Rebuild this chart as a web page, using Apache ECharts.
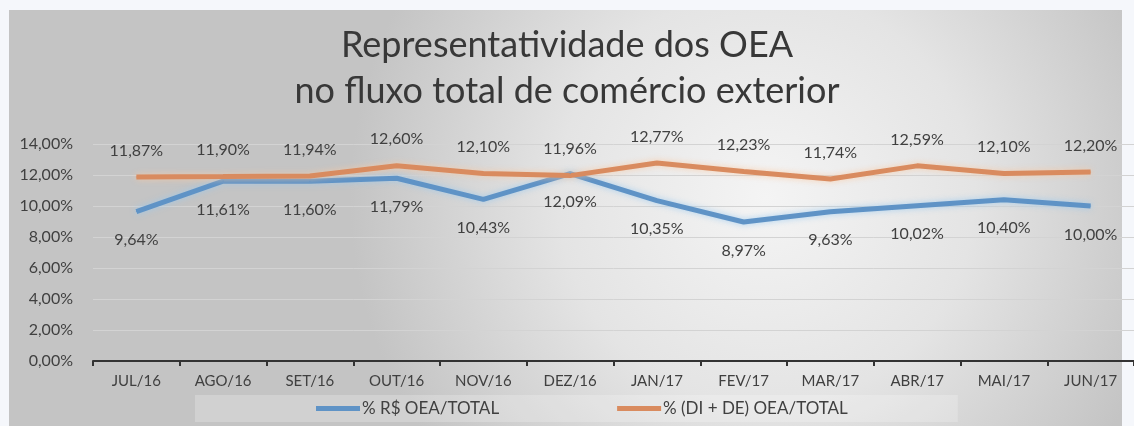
<!DOCTYPE html>
<html>
<head>
<meta charset="utf-8">
<script src="https://cdn.jsdelivr.net/npm/echarts@6/dist/echarts.min.js"></script>
<style>
  html, body { margin: 0; padding: 0; background: #f5f7fb; }
  #main { width: 1134px; height: 426px; }
</style>
</head>
<body>
<div id="main"></div>
<script>
var meses = ['JUL/16', 'AGO/16', 'SET/16', 'OUT/16', 'NOV/16', 'DEZ/16', 'JAN/17', 'FEV/17', 'MAR/17', 'ABR/17', 'MAI/17', 'JUN/17'];
// % R$ OEA/TOTAL
var valorOEA = [9.64, 11.61, 11.60, 11.79, 10.43, 12.09, 10.35, 8.97, 9.63, 10.02, 10.40, 10.00];
// % (DI + DE) OEA/TOTAL
var declOEA = [11.87, 11.90, 11.94, 12.60, 12.10, 11.96, 12.77, 12.23, 11.74, 12.59, 12.10, 12.20];

var fonte = 'Lato, "Open Sans", sans-serif';

function pct(v) {
    return v.toFixed(2).replace('.', ',') + '%';
}

var myChart = echarts.init(document.getElementById('main'));

var option = {
    textStyle: { fontFamily: fonte },
    graphic: [
        {
            type: 'rect',
            z: -10,
            silent: true,
            shape: { x: 9, y: 10, width: 1113, height: 416 },
            style: {
                fill: {
                    type: 'radial', x: 0.68, y: 0.45, r: 1.0,
                    colorStops: [
                        { offset: 0, color: '#f4f4f4' },
                        { offset: 0.5, color: '#e4e4e4' },
                        { offset: 1, color: '#c4c4c4' }
                    ]
                }
            }
        },
        {
            type: 'text',
            left: 'center',
            top: 27,
            style: {
                text: 'Representatividade dos OEA',
                font: '36px ' + fonte,
                fill: '#383838'
            }
        },
        {
            type: 'text',
            left: 'center',
            top: 73,
            style: {
                text: 'no fluxo total de comércio exterior',
                font: '36px ' + fonte,
                fill: '#383838'
            }
        }
    ],
    legend: {
        left: 195,
        top: 395,
        padding: [5, 110, 5, 121],
        backgroundColor: 'rgba(255,255,255,0.22)',
        itemGap: 118,
        itemWidth: 44,
        itemHeight: 5,
        icon: 'rect',
        textStyle: { color: '#404040', fontSize: 17, padding: [0, 0, 0, -3] },
        data: ['% R$ OEA/TOTAL', '% (DI + DE) OEA/TOTAL']
    },
    grid: { left: 93, top: 144, width: 1056, bottom: 65 },
    xAxis: {
        type: 'category',
        data: meses,
        boundaryGap: true,
        axisLine: { lineStyle: { color: '#333', width: 2 } },
        axisTick: { show: true, length: 5, lineStyle: { color: '#333', width: 2 } },
        axisLabel: { color: '#404040', fontSize: 15, margin: 13 }
    },
    yAxis: {
        type: 'value',
        min: 0,
        max: 14,
        interval: 2,
        axisLine: { show: false },
        axisTick: { show: false },
        axisLabel: { color: '#404040', fontSize: 16, margin: 20, formatter: pct },
        splitLine: { lineStyle: { color: '#d3d3d3', width: 1 } }
    },
    series: [
        {
            name: '% R$ OEA/TOTAL',
            type: 'line',
            data: valorOEA,
            color: '#5f93c6',
            symbol: 'circle',
            symbolSize: 1,
            lineStyle: { width: 5, color: '#5f93c6', shadowColor: 'rgba(150,200,240,0.8)', shadowBlur: 6 },
            label: {
                show: true,
                position: 'bottom',
                distance: 20,
                color: '#404040',
                fontSize: 16,
                formatter: function (p) { return pct(p.value); }
            }
        },
        {
            name: '% (DI + DE) OEA/TOTAL',
            type: 'line',
            data: declOEA,
            color: '#d98b5f',
            symbol: 'circle',
            symbolSize: 1,
            lineStyle: { width: 5, color: '#d98b5f', shadowColor: 'rgba(250,200,160,0.8)', shadowBlur: 6 },
            label: {
                show: true,
                position: 'top',
                distance: 18,
                color: '#404040',
                fontSize: 16,
                formatter: function (p) { return pct(p.value); }
            }
        }
    ]
};

myChart.setOption(option);
</script>
</body>
</html>
